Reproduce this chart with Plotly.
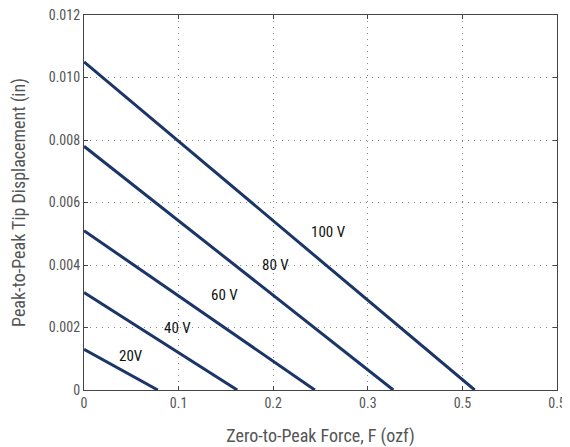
import plotly.graph_objects as go

# Data
voltages = ["20V", "40 V", "60 V", "80 V", "100 V"]
max_displacement = [0.0013, 0.00312, 0.0051, 0.0078, 0.0105]   # at F = 0
blocked_force = [0.078, 0.162, 0.244, 0.327, 0.413]             # at displacement = 0
label_x = [0.050, 0.099, 0.148, 0.202, 0.258]
label_y = [0.0011, 0.0020, 0.00305, 0.0040, 0.00506]

x_tickvals = [0, 0.1, 0.2, 0.3, 0.4, 0.5]
x_ticktext = ["0", "0.1", "0.2", "0.3", "0.5", "0.5"]
y_tickvals = [0, 0.002, 0.004, 0.006, 0.008, 0.010, 0.012]
y_ticktext = ["0", "0.002", "0.004", "0.006", "0.008", "0.010", "0.012"]

FONT = "Roboto Condensed, Liberation Sans Narrow, sans-serif"
LINE = "#1b3566"

fig = go.Figure()
for v, d, f in zip(voltages, max_displacement, blocked_force):
    fig.add_trace(go.Scatter(x=[0, f], y=[d, 0], mode="lines",
                             line=dict(color=LINE, width=3), name=v,
                             showlegend=False, hoverinfo="skip"))

for v, lx, ly in zip(voltages, label_x, label_y):
    fig.add_annotation(x=lx, y=ly, text=v, showarrow=False,
                       font=dict(family=FONT, size=15, color="#111111"))

axis_common = dict(showline=True, linecolor="#444444", linewidth=1.2, mirror="ticks",
                   ticks="inside", ticklen=4, tickcolor="#444444",
                   showgrid=True, gridcolor="#888888", griddash="1px,5px", gridwidth=1,
                   zeroline=False, automargin=False, ticklabeloverflow="allow",
                   tickfont=dict(family=FONT, size=14, color="#555555"),
                   title_font=dict(family=FONT, size=18, color="#555555"))

fig.update_xaxes(range=[0, 0.5], tickvals=x_tickvals, ticktext=x_ticktext,
                 title_text="Zero-to-Peak Force, F (ozf)", title_standoff=19,
                 **axis_common)
fig.update_yaxes(range=[0, 0.012], tickvals=y_tickvals, ticktext=y_ticktext,
                 title_text="Peak-to-Peak Tip Displacement (in)", title_standoff=21,
                 **axis_common)

# The page places the figure 8px in from the window's top-left corner
fig.update_layout(width=562, height=439,
                  margin=dict(l=76, r=13, t=7, b=57),
                  plot_bgcolor="white", paper_bgcolor="white",
                  font=dict(family=FONT))

fig.write_html("out.html")
